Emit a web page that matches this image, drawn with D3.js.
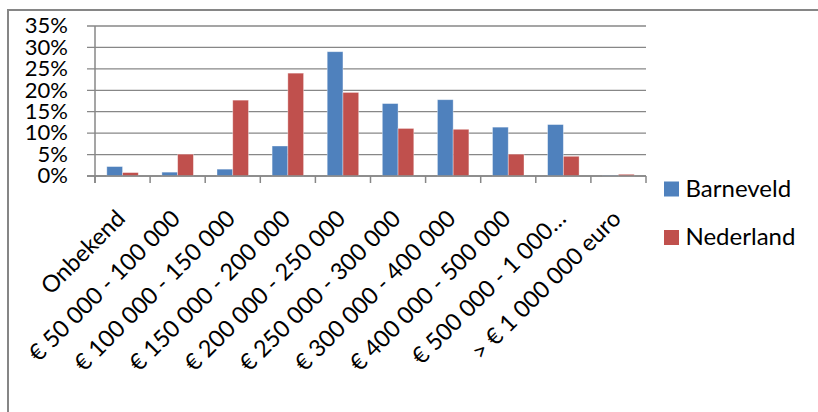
<!DOCTYPE html>
<html><head><meta charset="utf-8">
<script src="https://cdn.jsdelivr.net/npm/d3@7"></script>
<style>
html,body{margin:0;padding:0;background:#fff;}
svg{display:block;font-family:Lato, "Open Sans", sans-serif;}
</style></head>
<body>
<svg id="chart" width="818" height="412"></svg>
<script>
const categories = ["Onbekend","€ 50 000 - 100 000","€ 100 000 - 150 000","€ 150 000 - 200 000","€ 200 000 - 250 000","€ 250 000 - 300 000","€ 300 000 - 400 000","€ 400 000 - 500 000","€ 500 000 - 1 000…","> € 1 000 000 euro"];
const seriesNames = ["Barneveld","Nederland"];
const barneveld = [2.2, 0.9, 1.6, 7.0, 29.0, 16.9, 17.8, 11.4, 12.0, 0.2];
const nederland = [0.8, 5.1, 17.7, 24.0, 19.5, 11.1, 10.9, 5.1, 4.6, 0.4];
const yTicks = [0,5,10,15,20,25,30,35];
const colors = ["#4F81BD","#C0504D"];

const svg = d3.select("#chart");
const pLeft = 95, pRight = 646, pTop = 26, pBottom = 176;

// outer chart border (right and bottom edges fall outside the picture)
svg.append("path").attr("d","M8,420 L8,10 L830,10").attr("fill","none").attr("stroke","#868686").attr("stroke-width",2);

const x = d3.scaleBand().domain(categories).range([pLeft,pRight]).paddingInner(0).paddingOuter(0);
const y = d3.scaleLinear().domain([0,35]).range([pBottom,pTop]);
const bw = x.bandwidth()/3.5;

// gridlines + y tick labels
svg.append("g").selectAll("line").data(yTicks).join("line")
  .attr("x1",pLeft-8).attr("x2",pRight).attr("y1",d=>y(d)).attr("y2",d=>y(d))
  .attr("stroke","#878787").attr("stroke-width",1.3);
svg.append("g").selectAll("text").data(yTicks).join("text")
  .attr("x",68).attr("y",d=>y(d)).attr("dy","0.33em").attr("text-anchor","end")
  .attr("font-size",22).attr("fill","#000").text(d=>d+"%");

// bars
const series = [barneveld, nederland];
series.forEach((vals,si)=>{
  svg.append("g").selectAll("rect").data(categories).join("rect")
    .attr("x",(c)=>x(c)+0.75*bw+si*bw)
    .attr("width",bw)
    .attr("y",(c,i)=>y(vals[i]))
    .attr("height",(c,i)=>y(0)-y(vals[i]))
    .attr("fill",colors[si])
    .attr("stroke","rgba(255,255,255,0.45)").attr("stroke-width",0.8);
});

// axis lines and category ticks
svg.append("line").attr("x1",pLeft).attr("x2",pLeft).attr("y1",pTop).attr("y2",pBottom+7).attr("stroke","#878787").attr("stroke-width",1.5);
svg.append("line").attr("x1",pLeft-8).attr("x2",pRight).attr("y1",pBottom).attr("y2",pBottom).attr("stroke","#878787").attr("stroke-width",1.5);
const tickPos = categories.map(c=>x(c)).concat([pRight]);
svg.append("g").selectAll("line").data(tickPos).join("line")
  .attr("x1",d=>d).attr("x2",d=>d).attr("y1",pBottom).attr("y2",pBottom+7)
  .attr("stroke","#878787").attr("stroke-width",1.5);

// rotated category labels
svg.append("g").selectAll("text").data(categories).join("text")
  .attr("transform",c=>`translate(${x(c)+x.bandwidth()/2+4},220) rotate(-45)`)
  .attr("text-anchor","end").attr("font-size",23.5).attr("fill","#000").text(c=>c);

// legend
const lg = svg.append("g");
seriesNames.forEach((n,i)=>{
  lg.append("rect").attr("x",664).attr("y",181.5+i*48.5).attr("width",15).attr("height",15).attr("fill",colors[i]);
  lg.append("text").attr("x",685.5).attr("y",196.5+i*48).attr("font-size",24).attr("fill","#000").text(n);
});
</script>
</body></html>
